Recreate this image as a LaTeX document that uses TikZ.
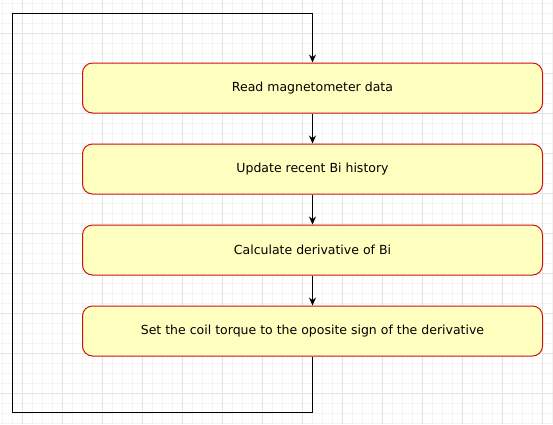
\documentclass[tikz,border=0pt]{standalone}
\usepackage{fontspec}
\setmainfont{DejaVu Sans}
\usepackage{tikz}
\usetikzlibrary{arrows.meta}
\usetikzlibrary{positioning}
\definecolor{fc-text}{HTML}{000000}
\definecolor{fc-fill}{HTML}{FFFFC0}
\definecolor{fc-line}{HTML}{D01010}
\definecolor{fc-minor}{HTML}{F3F3F3}
\definecolor{fc-major}{HTML}{E4E4E4}

\begin{document}
\begin{tikzpicture}[
    x=1pt, y=-1pt,
    node distance=30pt,
    font=\fontsize{12.5}{15}\selectfont,
    >={Stealth[length=8pt,width=7pt]}
  ]

  % Styles for the flow chart
  \tikzset{
    stepbox/.style={draw=fc-line, fill=fc-fill, rounded corners=10pt, line width=1pt, minimum width=460pt, minimum height=50pt, text=fc-text, align=center, inner sep=0pt},
    flow/.style={->, draw=fc-text, line width=1pt},
    gridminor/.style={draw=fc-minor, line width=1pt},
    gridmajor/.style={draw=fc-major, line width=1pt}
  }

  \useasboundingbox (0,0) rectangle (553,424);
  \fill[white] (0,0) rectangle (553,424);

  % Background grid
  \foreach \gx in {2,12,...,552} \draw[gridminor] (\gx,0) -- (\gx,424);
  \foreach \gy in {3,13,...,423} \draw[gridminor] (0,\gy) -- (553,\gy);
  \foreach \gx in {22,62,...,542} \draw[gridmajor] (\gx,0) -- (\gx,424);
  \foreach \gy in {33,73,...,393} \draw[gridmajor] (0,\gy) -- (553,\gy);

  % Vertical flow
  \node (read)   [stepbox] at (312.5,88) {Read magnetometer data};
  \node (update) [stepbox, below=of read] {Update recent Bi history};
  \node (deriv)  [stepbox, below=of update] {Calculate derivative of Bi};
  \node (torque) [stepbox, below=of deriv] {Set the coil torque to the oposite sign of the derivative};

  \draw[flow] (read) -- (update);
  \draw[flow] (update) -- (deriv);
  \draw[flow] (deriv) -- (torque);

  % Loop back to the start
  \coordinate (loopbl) at (12.5,412.5);
  \coordinate (looptl) at (12.5,13.5);
  \draw[flow] (torque.south) |- (loopbl) -- (looptl) -| (read.north);

\end{tikzpicture}
\end{document}
